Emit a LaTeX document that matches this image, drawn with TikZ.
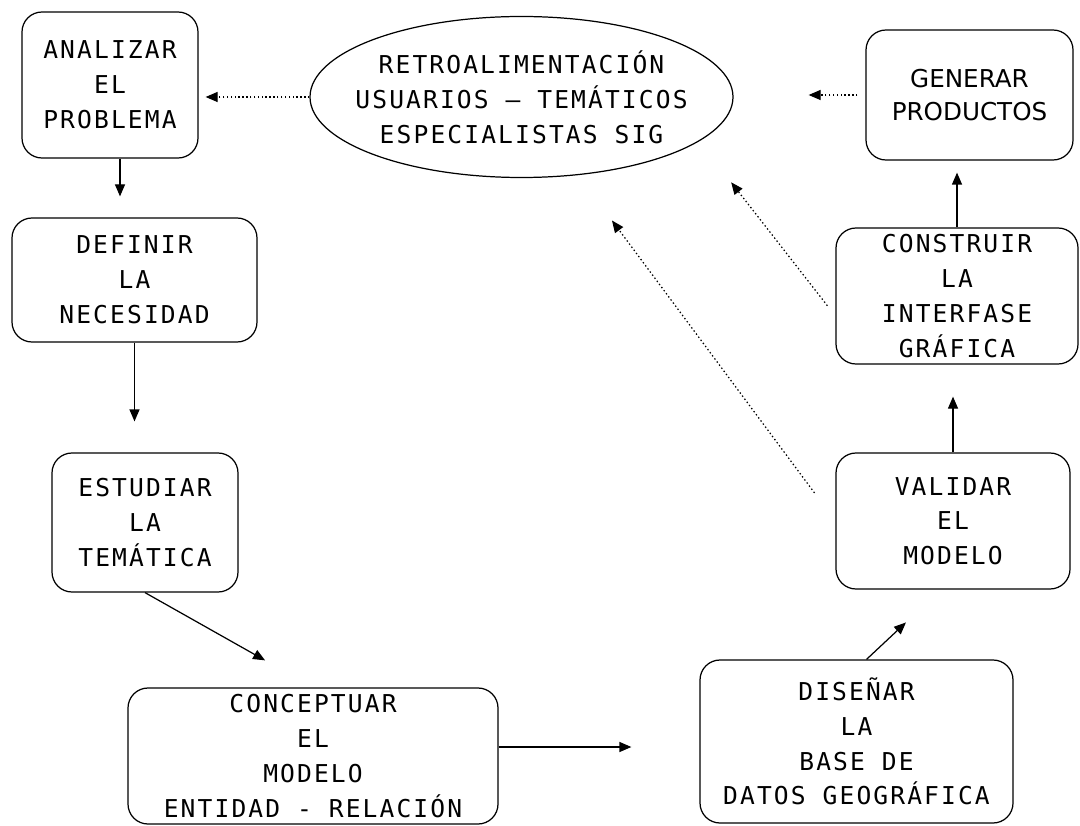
\documentclass[tikz,border=0pt]{standalone}
\usepackage{fontspec}
\newfontfamily\boxfont[LetterSpace=8.6]{DejaVu Sans Mono}
\newfontfamily\prodfont{DejaVu Sans}
\usetikzlibrary{arrows.meta,shapes.geometric,positioning}
\tikzstyle{recNode} = [rectangle, minimum width=3cm, minimum height=1cm, text centered, align=center, rounded corners=0.4cm, draw=black, line width=0.7pt, inner sep=0pt, font={\boxfont\fontsize{14}{19.8}\selectfont}]
\tikzstyle{ellNode} = [ellipse, text centered, align=center, draw=black, line width=0.7pt, inner xsep=-0.5cm, inner ysep=0pt, font={\boxfont\fontsize{14}{19.8}\selectfont}]
\tikzstyle{arrow} = [line width=0.7pt, -{Triangle[length=0.24cm,width=0.2cm]}, draw=black]
\tikzstyle{arrowD} = [arrow, dash pattern=on 0.8pt off 1.4pt]

\begin{document}
\begin{tikzpicture}[node distance=2cm]
    \useasboundingbox (0,0) rectangle (21.6,-16.52);
    \node (analizar) [recNode, minimum width=3.52cm, minimum height=2.92cm] at (2.2,-1.7) {ANALIZAR\\EL\\PROBLEMA};
    \node (retro) [ellNode, right of=analizar, xshift=6.23cm, yshift=-0.24cm, minimum width=8.46cm, minimum height=3.22cm] {RETROALIMENTACIÓN\\USUARIOS – TEMÁTICOS\\ESPECIALISTAS SIG};
    \node (generar) [recNode, right of=retro, xshift=6.96cm, yshift=0.04cm, minimum width=4.14cm, minimum height=2.6cm, font={\prodfont\fontsize{14}{18.7}\selectfont}] {GENERAR\\PRODUCTOS};
    \node (definir) [recNode, below of=analizar, xshift=0.49cm, yshift=-1.9cm, minimum width=4.9cm, minimum height=2.48cm] {DEFINIR\\LA\\NECESIDAD};
    \node (estudiar) [recNode, below of=definir, xshift=0.21cm, yshift=-2.85cm, minimum width=3.72cm, minimum height=2.78cm] {ESTUDIAR\\LA\\TEMÁTICA};
    \node (conceptuar) [recNode, below of=estudiar, xshift=3.36cm, yshift=-2.67cm, minimum width=7.4cm, minimum height=2.72cm] {CONCEPTUAR\\EL\\MODELO\\ENTIDAD - RELACIÓN};
    \node (disenar) [recNode, right of=conceptuar, xshift=8.87cm, yshift=0.29cm, minimum width=6.26cm, minimum height=3.26cm] {DISEÑAR\\LA\\BASE DE\\DATOS GEOGRÁFICA};
    \node (validar) [recNode, above of=disenar, xshift=1.93cm, yshift=2.41cm, minimum width=4.68cm, minimum height=2.72cm] {VALIDAR\\EL\\MODELO};
    \node (construir) [recNode, above of=validar, xshift=0.08cm, yshift=2.5cm, minimum width=4.84cm, minimum height=2.72cm] {CONSTRUIR\\LA\\INTERFASE\\GRÁFICA};

    \draw [arrow, shorten >=0.42cm] ([xshift=0.2cm]analizar.south) -- ([xshift=0.2cm]analizar.south |- definir.north);
    \draw [arrow, shorten >=0.62cm] (definir.south) -- (definir.south |- estudiar.north);
    \draw [arrow, shorten >=1.1cm] (estudiar.south) -- (conceptuar.north);
    \draw [arrow, shorten >=1.36cm] ([yshift=0.18cm]conceptuar.east) -- ([yshift=0.18cm]disenar.west |- conceptuar.east);
    \draw [arrow, shorten >=0.96cm] ([xshift=0.2cm]disenar.north) -- ([xshift=-0.24cm]validar.south);
    \draw [arrow, shorten >=0.64cm] (validar.north) -- (validar.north |- construir.south);
    \draw [arrow, shorten >=0.24cm] (construir.north) -- (construir.north |- generar.south);

    \draw [arrowD, shorten >=0.14cm] (retro.west) -- (analizar.east |- retro.west);
    \draw [arrowD, shorten <=0.16cm, shorten >=1.5cm] (generar.west) -- (retro.east |- generar.west);
    \draw [arrowD, shorten <=0.26cm, shorten >=1.04cm] ([yshift=-0.4cm]construir.west) -- (retro.-14);
    \draw [arrowD, shorten <=0.7cm, shorten >=1.13cm] (validar.west) -- (retro.-54.6);
\end{tikzpicture}
\end{document}
